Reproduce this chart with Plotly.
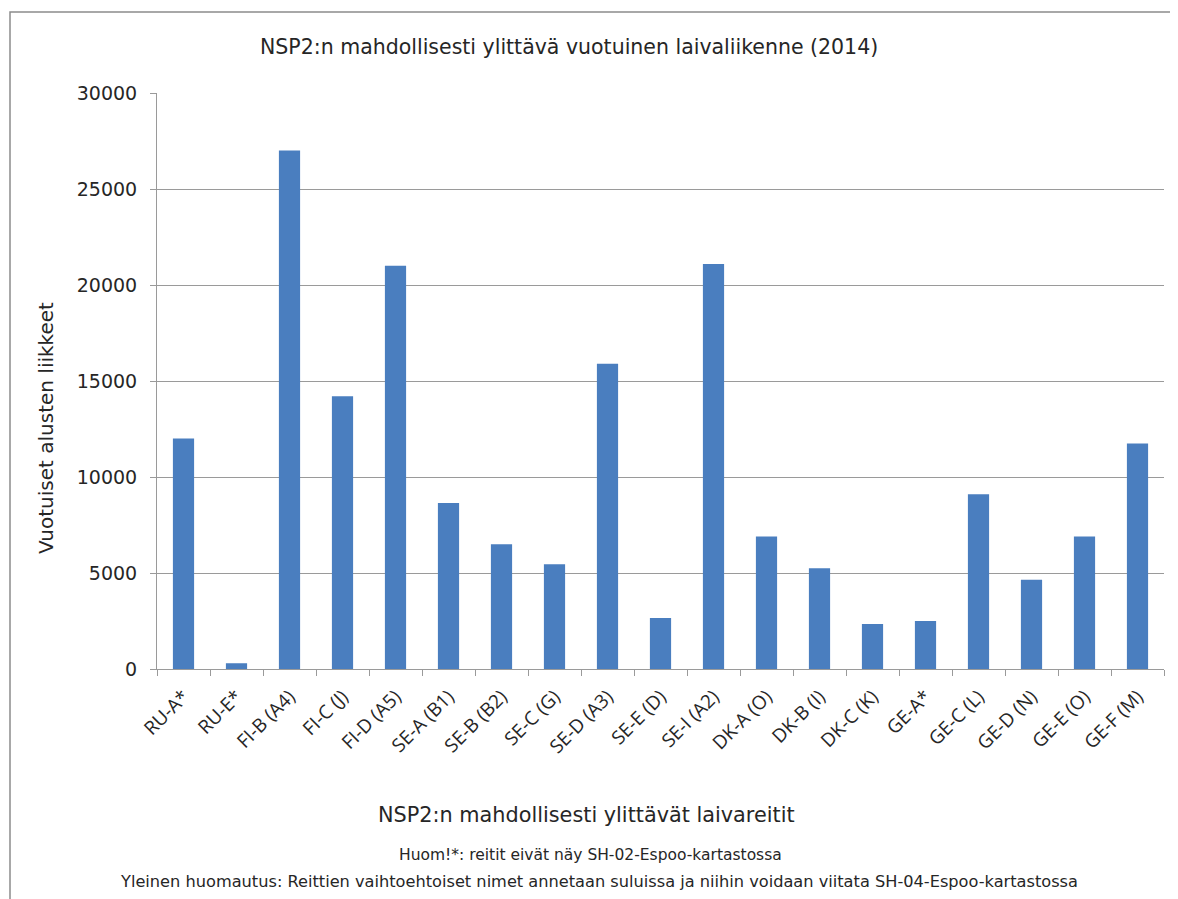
import plotly.graph_objects as go

categories = ["RU-A*", "RU-E*", "FI-B (A4)", "FI-C (J)", "FI-D (A5)", "SE-A (B1)", "SE-B (B2)",
              "SE-C (G)", "SE-D (A3)", "SE-E (D)", "SE-I (A2)", "DK-A (O)", "DK-B (I)", "DK-C (K)",
              "GE-A*", "GE-C (L)", "GE-D (N)", "GE-E (O)", "GE-F (M)"]
values = [12000, 300, 27000, 14200, 21000, 8650, 6500, 5450, 15900, 2650, 21100, 6900, 5250,
          2350, 2500, 9100, 4650, 6900, 11750]
y_ticks = [0, 5000, 10000, 15000, 20000, 25000, 30000]

title_text = "NSP2:n mahdollisesti ylittävä vuotuinen laivaliikenne (2014)"
x_title = "NSP2:n mahdollisesti ylittävät laivareitit"
y_title = "Vuotuiset alusten liikkeet"
note1 = "Huom!*: reitit eivät näy SH-02-Espoo-kartastossa"
note2 = "Yleinen huomautus: Reittien vaihtoehtoiset nimet annetaan suluissa ja niihin voidaan viitata SH-04-Espoo-kartastossa"

OFF = 8  # default page body margin
W, H = 1170, 891
# desired page positions of plot area: x 157..1164, y 93..669
L, T = 157 - OFF, 93 - OFF
R = W - (1164 - OFF)
B = H - (669 - OFF)
pw, ph = W - L - R, H - T - B

def px(x):
    return (x - OFF - L) / pw

def py(y):
    return (H - B - (y - OFF)) / ph

fig = go.Figure(go.Bar(x=categories, y=values, marker=dict(color="#4A7EBF", line=dict(width=0)),
                       showlegend=False))

font_main = "DejaVu Sans, Verdana, sans-serif"
fig.update_layout(
    width=W, height=H,
    margin=dict(l=L, r=R, t=T, b=B, autoexpand=False),
    paper_bgcolor="white", plot_bgcolor="white",
    bargap=0.6,
    font=dict(family=font_main, color="#262626"),
)
fig.update_yaxes(range=[0, 30000], tickvals=y_ticks, ticktext=[str(v) for v in y_ticks],
                 showgrid=True, gridcolor="#9a9a9a", gridwidth=1,
                 showline=True, linecolor="#9a9a9a", linewidth=1,
                 ticks="outside", ticklen=6, tickcolor="#9a9a9a", ticklabelstandoff=9,
                 tickfont=dict(family=font_main, size=19, color="#262626"),
                 zeroline=False, fixedrange=True)
fig.update_xaxes(showline=True, linecolor="#9a9a9a", linewidth=1,
                 ticks="outside", ticklen=6, tickcolor="#9a9a9a", tickson="boundaries",
                 ticklabelstandoff=8,
                 tickangle=-45, tickfont=dict(family="Open Sans, Calibri, sans-serif", size=19, color="#262626"),
                 showgrid=False, fixedrange=True)

annots = [
    dict(text=title_text, x=px(569), y=py(47), size=20.5),
    dict(text=x_title, x=px(586), y=py(815), size=20.8),
    dict(text=note1, x=px(590), y=py(855), size=15.5),
    dict(text=note2, x=px(599), y=py(881), size=16.2),
]
for a in annots:
    fig.add_annotation(text=a["text"], x=a["x"], y=a["y"], xref="paper", yref="paper",
                       showarrow=False, xanchor="center", yanchor="middle",
                       font=dict(family=font_main, size=a["size"], color="#262626"))
fig.add_annotation(text=y_title, x=px(46), y=py(428), xref="paper", yref="paper",
                   showarrow=False, textangle=-90, xanchor="center", yanchor="middle",
                   font=dict(family=font_main, size=20, color="#262626"))

fig.add_shape(type="rect", xref="paper", yref="paper",
              x0=px(10), x1=px(1173), y0=py(905), y1=py(12),
              line=dict(color="#8c8c8c", width=1.5), fillcolor="rgba(0,0,0,0)", layer="below")

fig.write_html("out.html")
